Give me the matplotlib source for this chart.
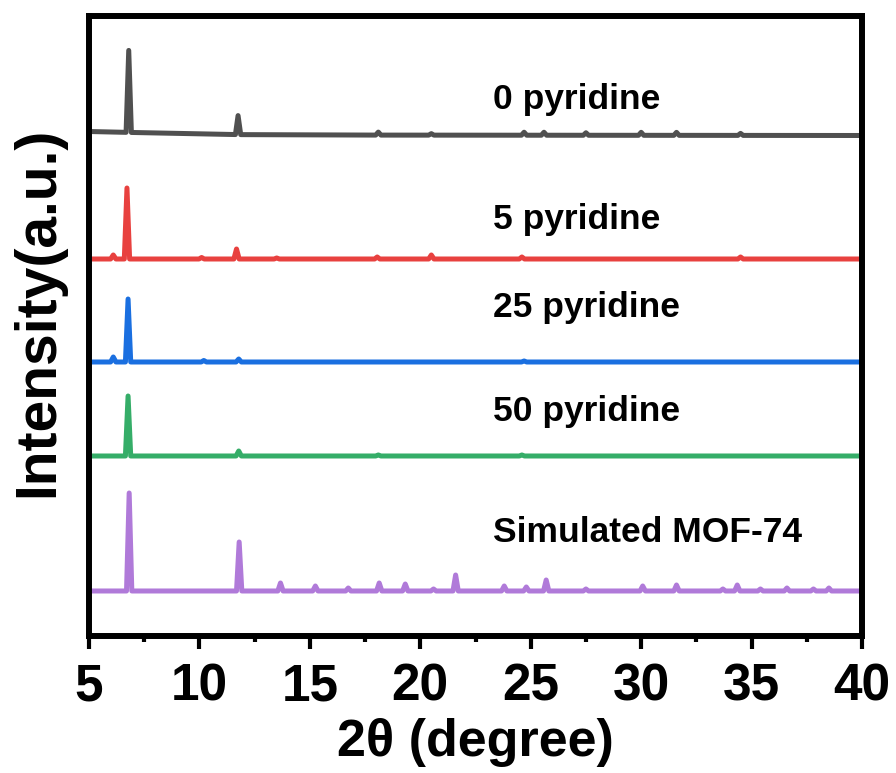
import numpy as np
import matplotlib.pyplot as plt

plt.rcParams['font.family'] = ['Liberation Sans', 'DejaVu Sans']
plt.rcParams['font.weight'] = 'bold'

# XRD peaks: 2theta position and height (a.u.)
pk_0 = [6.8, 11.75, 18.1, 20.5, 24.7, 25.6, 27.5, 30.0, 31.6, 34.5]
h_0 = [82, 19, 3, 1.5, 3, 3, 2.5, 3, 3, 2]
pk_5 = [6.1, 6.72, 10.1, 11.68, 13.5, 18.05, 20.5, 24.6, 34.5]
h_5 = [4, 71, 1.5, 10, 1, 2, 4, 2, 2]
pk_25 = [6.1, 6.77, 10.2, 11.78, 24.7]
h_25 = [5, 63, 1.5, 3, 1]
pk_50 = [6.77, 11.78, 18.1, 24.6]
h_50 = [60, 5, 1, 1]
pk_sim = [6.82, 11.8, 13.67, 15.25, 16.74, 18.14, 19.32, 20.6, 21.6, 23.8,
          24.8, 25.7, 27.5, 30.07, 31.6, 33.7, 34.35, 35.4, 36.6, 37.8, 38.5]
h_sim = [98, 49, 8, 5, 3, 8, 7, 2, 16, 5, 4, 11, 2, 5, 6, 2, 6, 2, 3, 2, 3]

# slight background drift of the 0 pyridine pattern
drift_x = [5, 7, 10, 13, 40]
drift_0 = [4, 3, 1.5, 0.5, 0]

labels = ['0 pyridine', '5 pyridine', '25 pyridine', '50 pyridine', 'Simulated MOF-74']
peaks = [pk_0, pk_5, pk_25, pk_50, pk_sim]
heights = [h_0, h_5, h_25, h_50, h_sim]
offsets = [501, 377.5, 274.5, 180.5, 45.5]
label_y = [537, 417, 329, 225, 104]
colors = ['#505050', '#e8413f', '#1a6fe0', '#35ad68', '#b07ad9']


def pattern(pos, hgt, base, drift=None, w=0.12):
    xs = [5.0]
    ys = [0.0]
    for p, h in sorted(zip(pos, hgt)):
        xs += [p - w, p, p + w]
        ys += [0.0, h, 0.0]
    xs.append(40.0)
    ys.append(0.0)
    xs = np.array(xs)
    ys = np.array(ys) + base
    if drift is not None:
        ys = ys + np.interp(xs, drift_x, drift)
    return xs, ys


fig = plt.figure(figsize=(8.96, 7.73), dpi=100)
ax = fig.add_axes([0.0993, 0.1766, 0.8628, 0.8027])

for i in range(5):
    x, y = pattern(peaks[i], heights[i], offsets[i], drift_0 if i == 0 else None)
    ax.plot(x, y, color=colors[i], lw=3.6, solid_joinstyle='round', solid_capstyle='round')
    ax.text(23.29, label_y[i], labels[i], fontsize=25.5, fontweight='bold', va='center', ha='left')

ax.set_xlim(5, 40)
ax.set_ylim(0, 620.5)
ax.set_xticks(range(5, 41, 5))
ax.set_xticks(np.arange(7.5, 40, 5), minor=True)
ax.set_yticks([])
ax.tick_params(axis='x', which='major', direction='out', length=9.5, width=3, labelsize=37, pad=9)
ax.tick_params(axis='x', which='minor', direction='out', length=4.5, width=3)
for lab in ax.get_xticklabels():
    lab.set_fontweight('bold')
for s in ax.spines.values():
    s.set_linewidth(4.3)

ax.set_xlabel('2θ (degree)', fontsize=37.5, fontweight='bold', labelpad=5)
fig.text(0.013, 1 - 312 / 773, 'Intensity(a.u.)', fontsize=41, fontweight='bold',
         rotation=90, ha='left', va='center')

fig.savefig('out.png', dpi=100)
